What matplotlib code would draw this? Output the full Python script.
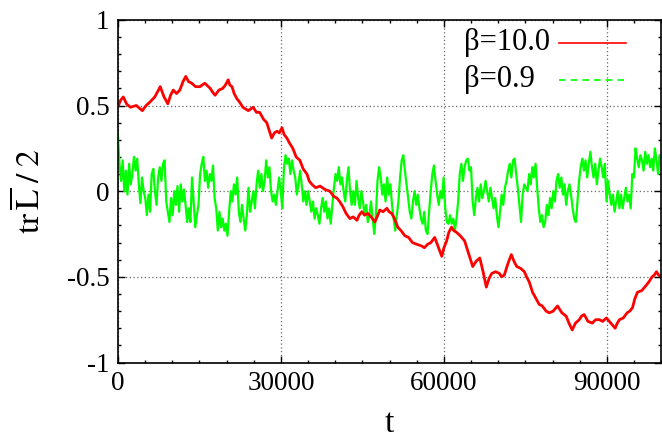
import numpy as np
import matplotlib
matplotlib.use("Agg")
import matplotlib.pyplot as plt
from matplotlib.lines import Line2D
from matplotlib.ticker import MultipleLocator

# beta = 10.0 (red)
red_t = [0, 500, 1000, 1600, 2300, 3400, 4500, 5200, 5900, 6800, 7800, 8500, 9200,
         9700, 10200, 10800, 11400, 12000, 12500, 13000, 13600, 14300, 15100, 16000,
         17000, 17400, 17900, 18600, 19300, 19800, 20300, 20600, 21000, 21400, 21900,
         22400, 23000, 24000, 24900, 25500, 26100, 26800, 27400, 27900, 28300, 28800,
         29300, 29700, 30200, 30600, 31100, 31600, 32200, 32800, 33500, 34100, 34800,
         35200, 35700, 36400, 37200, 38100, 39000, 39700, 40300, 40800, 41400, 42000,
         42700, 43300, 44000, 44400, 44900, 45400, 46000, 46600, 47300, 47700, 48200,
         48800, 49500, 49900, 50400, 50900, 51500, 52100, 52800, 53500, 54200, 55000,
         55900, 56400, 57000, 57600, 58300, 58900, 59600, 60000, 60500, 60900, 61400,
         61800, 62300, 63000, 63800, 64500, 65300, 65900, 66600, 67200, 67800, 68300,
         68800, 69500, 70200, 70600, 71100, 71800, 72400, 72900, 73400, 74100, 74800,
         75200, 75700, 76300, 77000, 77500, 78100, 78800, 79400, 80100, 80900, 81700,
         82500, 83000, 83600, 84200, 84900, 85300, 85800, 86500, 87300, 87900, 88600,
         89200, 89900, 90700, 91500, 91900, 92300, 93000, 93700, 94200, 94700, 95100,
         95600, 96400, 97200, 97700, 98300, 98700, 99100, 99500, 100000]
red_v = [0.49, 0.53, 0.55, 0.51, 0.49, 0.50, 0.47, 0.50, 0.52, 0.55, 0.61, 0.55, 0.51,
         0.56, 0.59, 0.57, 0.59, 0.64, 0.67, 0.64, 0.63, 0.61, 0.61, 0.63,
         0.60, 0.58, 0.56, 0.59, 0.60, 0.62, 0.65, 0.62, 0.61, 0.57, 0.54,
         0.52, 0.49, 0.47, 0.49, 0.46, 0.46, 0.42, 0.40, 0.35, 0.31, 0.34,
         0.35, 0.34, 0.37, 0.33, 0.31, 0.28, 0.25, 0.20, 0.18, 0.13, 0.10,
         0.06, 0.04, 0.02, 0.03, 0.01, 0.00, -0.03, -0.04, -0.06, -0.09, -0.13,
         -0.16, -0.15, -0.17, -0.14, -0.12, -0.14, -0.13, -0.15, -0.18, -0.15, -0.11,
         -0.12, -0.10, -0.12, -0.13, -0.16, -0.21, -0.23, -0.26, -0.27, -0.30, -0.31,
         -0.32, -0.33, -0.31, -0.30, -0.27, -0.32, -0.38, -0.33, -0.29, -0.24, -0.21,
         -0.23, -0.24, -0.26, -0.29, -0.36, -0.44, -0.41, -0.39, -0.47, -0.56, -0.51,
         -0.48, -0.47, -0.48, -0.50, -0.49, -0.42, -0.37, -0.41, -0.44, -0.45, -0.47,
         -0.50, -0.53, -0.59, -0.63, -0.66, -0.67, -0.70, -0.71, -0.70, -0.67, -0.71,
         -0.73, -0.77, -0.81, -0.77, -0.75, -0.73, -0.72, -0.76, -0.77, -0.75, -0.75,
         -0.76, -0.74, -0.77, -0.80, -0.77, -0.75, -0.74, -0.71, -0.70, -0.68, -0.63,
         -0.59, -0.58, -0.55, -0.53, -0.50, -0.49, -0.47, -0.49, -0.50]

# beta = 0.9 (green), read at even steps in t
green_v = [
    0.33, 0.16, 0.06, 0.18, 0.00, 0.12, -0.02, 0.16, 0.04, 0.10, 0.20, 0.12, 0.19,
    0.04, -0.07, 0.08, 0.00, -0.04, -0.14, -0.02, -0.12, 0.10, 0.13, 0.00, -0.08,
    0.08, 0.14, 0.06, 0.16, 0.18, -0.06, -0.12, -0.18, -0.04, -0.14, 0.00, -0.08,
    0.03, -0.12, 0.04, -0.06, 0.01, -0.08, -0.18, -0.10, -0.18, 0.08, -0.06, -0.21,
    -0.14, -0.08, 0.10, 0.16, 0.20, 0.06, 0.12, 0.02, 0.10, 0.06, 0.15, -0.04,
    -0.10, -0.23, -0.12, -0.21, -0.16, -0.23, -0.19, -0.26, -0.12, 0.00, -0.06,
    0.04, -0.02, 0.08, -0.12, -0.18, -0.08, -0.16, -0.23, -0.14, 0.02, -0.12, -0.06,
    # 25000 ..
    0.00, -0.10, 0.04, 0.12, 0.02, 0.10, 0.00, 0.06, 0.18, 0.08, 0.14, 0.00, -0.06,
    -0.02, -0.08, 0.00, 0.08, 0.00, -0.10, 0.14, 0.21, 0.16, 0.19, 0.10, 0.18, 0.12,
    0.08, -0.02, 0.04, 0.12, 0.04, -0.06, 0.00, -0.08, 0.00, -0.06, -0.12, -0.06,
    -0.16, -0.10, -0.14, -0.19, -0.10, -0.04, -0.12, -0.06, -0.16, -0.10, -0.19,
    -0.08, 0.02, 0.10, 0.06, 0.14, 0.04, 0.08, 0.00, -0.06, 0.06, 0.14, 0.00, -0.08,
    0.00, -0.08, 0.06, -0.04, -0.10, 0.00, -0.06, -0.14, -0.08, -0.18, -0.14, -0.06,
    -0.16, -0.25, -0.14, 0.06, 0.14, 0.08, -0.02, 0.04, -0.06, 0.08, -0.02,
    # 50000 ..
    0.04, -0.08, -0.16, -0.23, -0.14, -0.06, 0.08, 0.18, 0.21, 0.12, 0.04, -0.04,
    -0.12, -0.16, -0.06, 0.00, -0.08, -0.02, -0.10, -0.16, -0.19, -0.12, -0.23,
    -0.25, -0.12, 0.00, 0.10, 0.15, 0.06, -0.02, -0.08, 0.00, -0.04, 0.08, -0.10,
    -0.18, -0.19, -0.14, -0.19, -0.16, -0.23, -0.16, -0.06, 0.10, 0.16, 0.06, 0.14,
    0.18, 0.19, 0.12, 0.14, -0.06, -0.14, -0.04, 0.02, -0.06, 0.04, -0.04, 0.00,
    0.06, 0.00, -0.06, 0.02, -0.04, -0.10, -0.04, -0.14, -0.21, -0.12, -0.02, -0.08,
    0.02, 0.06, 0.12, 0.16, 0.08, 0.18, 0.19, 0.10, 0.02, -0.08, -0.18, -0.02, 0.04,
    0.02,
    # 75000 ..
    0.00, 0.10, 0.04, 0.14, 0.08, 0.16, 0.02, -0.10, -0.18, -0.14, -0.21, -0.18,
    -0.08, -0.14, -0.04, -0.10, 0.00, -0.06, 0.06, 0.10, 0.02, 0.08, -0.02, 0.04,
    -0.08, 0.00, 0.04, -0.02, -0.10, -0.16, -0.18, -0.06, 0.06, 0.14, 0.19, 0.12,
    0.18, 0.08, 0.16, 0.23, 0.14, 0.08, 0.16, 0.04, 0.12, 0.19, 0.14, 0.08, 0.16,
    -0.06, 0.06, -0.02, -0.08, -0.02, -0.12, -0.06, 0.00, -0.10, -0.02, -0.10,
    -0.04, 0.02, -0.06, -0.02, -0.10, 0.10, 0.08, 0.25, 0.19, 0.14, 0.21, 0.18,
    0.12, 0.23, 0.16, 0.21, 0.14, 0.19, 0.12, 0.25, 0.18, 0.10, 0.21, 0.16]
green_t = np.linspace(0, 100000, len(green_v))

labels = ["\u03b2=10.0", "\u03b2=0.9"]
colors = ["#ff0000", "#00ff00"]

plt.rcParams["font.family"] = ["Liberation Serif", "DejaVu Serif"]
plt.rcParams["mathtext.fontset"] = "stix"

fig = plt.figure(figsize=(6.62, 4.41), dpi=100)
ax = fig.add_axes([0.178, 0.178, 0.821, 0.777])

ax.plot(green_t, green_v, color=colors[1], lw=1.6)
ax.plot(red_t, red_v, color=colors[0], lw=2.0)

ax.set_xlim(0, 100000)
ax.set_ylim(-1, 1)
ax.xaxis.set_major_locator(MultipleLocator(30000))
ax.xaxis.set_minor_locator(MultipleLocator(5000))
ax.yaxis.set_major_locator(MultipleLocator(0.5))
ax.yaxis.set_minor_locator(MultipleLocator(0.1))
ax.yaxis.set_major_formatter(plt.FuncFormatter(lambda v, p: "%g" % v))

ax.tick_params(which="both", direction="in", top=True, right=True, labelsize=19.5)
ax.tick_params(which="major", length=5, width=1, pad=6)
ax.tick_params(which="minor", length=2.5, width=1)
ax.grid(True, which="major", color="#666666", linestyle=(0, (1, 2)), lw=0.9)
for s in ax.spines.values():
    s.set_linewidth(1.2)

ax.set_xlabel("t", fontsize=24, labelpad=9)
ax.set_ylabel(r"$\mathrm{tr}\,\overline{\mathrm{L}}\;/\;2$", fontsize=24, labelpad=14)

# legend drawn gnuplot-style: text left, sample line right
legend_y = [0.933, 0.825]
styles = ["-", (0, (4, 3))]
for lab, c, yy, ls in zip(labels, colors, legend_y, styles):
    ax.text(0.636, yy, lab, transform=ax.transAxes, fontsize=22,
            va="center", ha="left")
    ax.add_line(Line2D([0.812, 0.935], [yy, yy], transform=ax.transAxes,
                       color=c, lw=1.2, linestyle=ls))

fig.savefig("out.png", dpi=100)
